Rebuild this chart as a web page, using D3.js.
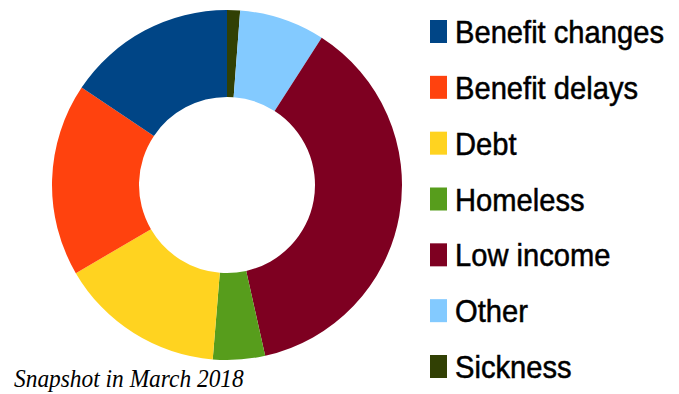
<!DOCTYPE html>
<html>
<head>
<meta charset="utf-8">
<script src="https://cdn.jsdelivr.net/npm/d3@7"></script>
<style>
  html, body { margin: 0; padding: 0; background: #fff; }
  svg { display: block; }
</style>
</head>
<body>
<div class="draw"></div>
<script>
// reasons for referral, share of total (%)
var categories = ['Benefit changes', 'Benefit delays', 'Debt', 'Homeless', 'Low income', 'Other', 'Sickness'];
var values = [15.6, 17.8, 15.3, 4.8, 37.4, 7.9, 1.2];
var colours = ['#004586', '#ff420e', '#ffd320', '#579d1c', '#7e0021', '#83caff', '#314004'];
var caption = 'Snapshot in March 2018';

var size = { w: 679, h: 394 };
var ring = { cx: 227, cy: 185, outer: 175, inner: 88 };

var rows = categories.map(function(c, i) {
  return { name: c, value: values[i], colour: colours[i] };
});

var svg = d3.select('.draw').append('svg')
  .attr('width', size.w)
  .attr('height', size.h);

// slices run anticlockwise from 12 o'clock, so lay them out reversed clockwise
var pie = d3.pie()
  .sort(null)
  .value(function(d) { return d.value; });
var arc = d3.arc()
  .innerRadius(ring.inner)
  .outerRadius(ring.outer);

svg.append('g')
  .attr('transform', 'translate(' + ring.cx + ',' + ring.cy + ')')
  .selectAll('path')
  .data(pie(rows.slice().reverse()))
  .enter().append('path')
  .attr('d', arc)
  .attr('fill', function(d) { return d.data.colour; });

// legend
var legendY = d3.scalePoint()
  .domain(categories)
  .range([43, 378]);

var legend = svg.append('g').attr('class', 'legend');
var item = legend.selectAll('g.item')
  .data(rows)
  .enter().append('g')
  .attr('class', 'item')
  .attr('transform', function(d) { return 'translate(430,' + legendY(d.name) + ')'; });

item.append('rect')
  .attr('x', 0)
  .attr('y', -23)
  .attr('width', 17)
  .attr('height', 23)
  .attr('fill', function(d) { return d.colour; });

item.append('text')
  .attr('transform', 'translate(25,0) scale(0.94,1)')
  .attr('font-family', 'Liberation Sans, Arial, sans-serif')
  .attr('font-size', 31)
  .attr('fill', '#000')
  .attr('stroke', '#000')
  .attr('stroke-width', 0.5)
  .text(function(d) { return d.name; });

svg.append('text')
  .attr('transform', 'translate(14,387) scale(0.9,1)')
  .attr('font-family', 'Liberation Serif, Times New Roman, serif')
  .attr('font-style', 'italic')
  .attr('font-size', 26)
  .attr('fill', '#000')
  .text(caption);
</script>
</body>
</html>
